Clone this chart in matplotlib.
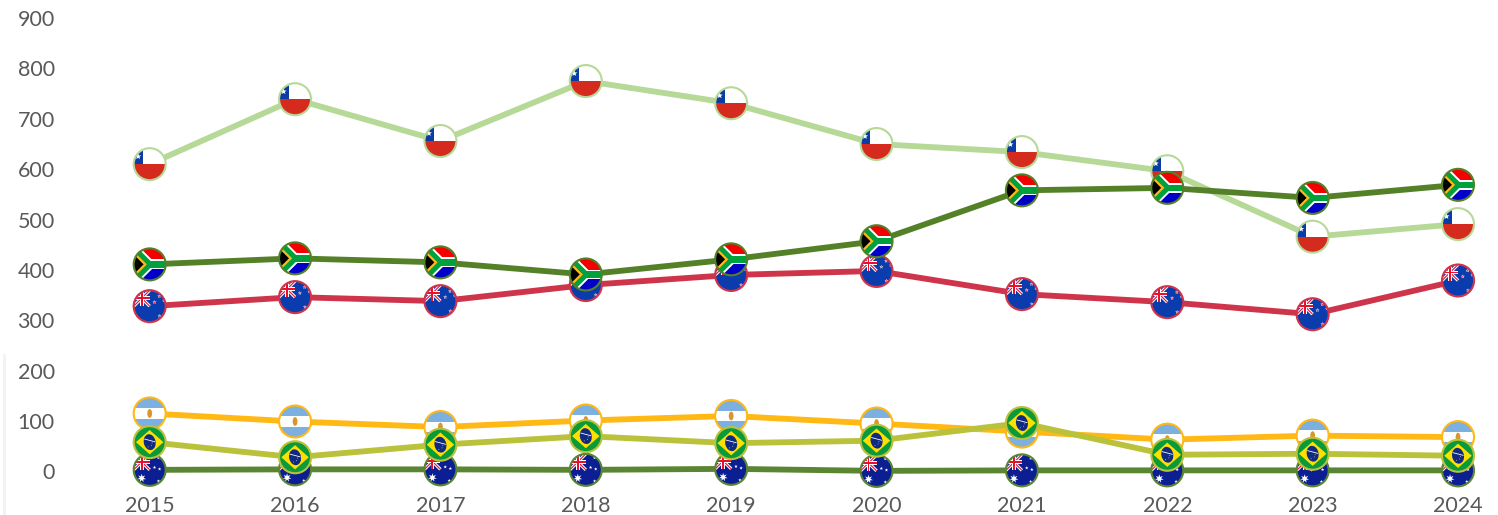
import matplotlib
matplotlib.use("Agg")
import matplotlib.pyplot as plt
from matplotlib.patches import Circle, Rectangle, Polygon, Ellipse, PathPatch
from matplotlib.path import Path
from matplotlib.transforms import Affine2D
from matplotlib.lines import Line2D
import numpy as np

plt.rcParams['font.family'] = ['Lato', 'DejaVu Sans']

years = ['2015', '2016', '2017', '2018', '2019', '2020', '2021', '2022', '2023', '2024']
y_ticks = [0, 100, 200, 300, 400, 500, 600, 700, 800, 900]

australia = [3, 4, 4, 3, 5, 1, 2, 2, 2, 2]
argentina = [115, 99, 88, 101, 110, 95, 79, 63, 71, 68]
new_zealand = [328, 346, 338, 370, 390, 398, 352, 336, 312, 379]
chile = [610, 739, 656, 775, 731, 650, 634, 596, 466, 491]
south_africa = [411, 423, 415, 391, 421, 457, 558, 563, 543, 569]
brazil = [58, 28, 53, 70, 56, 61, 96, 33, 35, 31]

W, H = 1498, 515
fig = plt.figure(figsize=(W / 100, H / 100), dpi=100)
# axes sized in pixels so the years and gridless scale land where they do in the picture
ax = fig.add_axes([77 / W, 25 / H, (W - 77) / W, (H - 25) / H])
ax.set_xlim(-0.5, 9.275)
ax.set_ylim(-37, 936)
for s in ax.spines.values():
    s.set_visible(False)
ax.set_xticks(range(len(years)))
ax.set_xticklabels(years)
ax.set_yticks(y_ticks)
ax.tick_params(axis='both', length=0, labelsize=15.5, labelcolor='#595959')
ax.tick_params(axis='y', pad=16)
ax.tick_params(axis='x', pad=4)

# faint edge at lower left
fig.add_artist(Line2D([4 / W, 4 / W], [0, 160 / H], color='#f2f2f2', lw=2))


# every flag is drawn in a unit circle, T moves it to the data point
def band(p1, p2, w):
    p1, p2 = np.array(p1, float), np.array(p2, float)
    d = p2 - p1
    n = np.array([-d[1], d[0]]) / np.hypot(*d) * w / 2
    return [p1 + n, p2 + n, p2 - n, p1 - n]


def star(cx, cy, s, color, T, n=5):
    tr = Affine2D().scale(s).translate(cx, cy) + T
    return PathPatch(Path.unit_regular_star(n, 0.42), transform=tr, fc=color, ec='none')


def jack(T):
    # union jack in upper left quarter
    a = [(-1, 1), (0, 0)]
    b = [(-1, 0), (0, 1)]
    out = [Polygon(band(*a, 0.2), fc='white', transform=T),
           Polygon(band(*b, 0.2), fc='white', transform=T),
           Polygon(band(*a, 0.07), fc='#e8112d', transform=T),
           Polygon(band(*b, 0.07), fc='#e8112d', transform=T),
           Rectangle((-0.62, 0), 0.24, 1, fc='white', transform=T),
           Rectangle((-1, 0.38), 1, 0.24, fc='white', transform=T),
           Rectangle((-0.56, 0), 0.12, 1, fc='#e8112d', transform=T),
           Rectangle((-1, 0.44), 1, 0.12, fc='#e8112d', transform=T)]
    return out


def flag_chile(T):
    return [Rectangle((-1, 0), 2, 1, fc='white', transform=T),
            Rectangle((-1, -1), 2, 1, fc='#d52b1e', transform=T),
            Rectangle((-1, 0), 0.6, 1, fc='#0a3ca6', transform=T),
            star(-0.72, 0.48, 0.2, 'white', T)]


def flag_nz(T):
    out = [Rectangle((-1, -1), 2, 2, fc='#0a3cae', transform=T)] + jack(T)
    for x, y in [(0.6, 0.62), (0.3, 0.25), (0.9, 0.35), (0.62, -0.62)]:
        out.append(star(x, y, 0.13, 'white', T))
        out.append(star(x, y, 0.07, '#e8112d', T))
    return out


def flag_aus(T):
    out = [Rectangle((-1, -1), 2, 2, fc='#0b1f92', transform=T)] + jack(T)
    out.append(star(-0.5, -0.52, 0.28, 'white', T, n=7))
    for x, y in [(0.55, 0.75), (0.95, 0.45), (0.3, 0.15), (0.62, 0.05), (0.55, -0.7)]:
        out.append(star(x, y, 0.11, 'white', T))
    return out


def flag_sa(T):
    return [Rectangle((-1, 0), 2, 1, fc='#f40000', transform=T),
            Rectangle((-1, -1), 2, 1, fc='#0000c8', transform=T),
            Polygon(band((-1, 1), (0, 0), 0.62), fc='white', transform=T),
            Polygon(band((-1, -1), (0, 0), 0.62), fc='white', transform=T),
            Rectangle((-0.1, -0.31), 1.2, 0.62, fc='white', transform=T),
            Polygon(band((-1.1, 1.1), (0, 0), 0.38), fc='#00a03c', transform=T),
            Polygon(band((-1.1, -1.1), (0, 0), 0.38), fc='#00a03c', transform=T),
            Rectangle((-0.1, -0.2), 1.2, 0.4, fc='#00a03c', transform=T),
            Polygon([(-1, 0.82), (-0.18, 0), (-1, -0.82)], fc='#ffb81c', transform=T),
            Polygon([(-1, 0.62), (-0.38, 0), (-1, -0.62)], fc='black', transform=T)]


def flag_brazil(T):
    out = [Rectangle((-1, -1), 2, 2, fc='#0b9a3a', transform=T),
           Polygon([(-0.86, 0), (0, 0.76), (0.86, 0), (0, -0.76)], fc='#fedf00', transform=T),
           Ellipse((0, 0), 0.74, 1.0, angle=12, fc='#0f2a80', transform=T),
           Polygon(band((-0.34, 0.2), (0.34, 0.02), 0.05), fc='white', transform=T)]
    for x, y in [(0.1, -0.2), (-0.1, -0.3), (0.15, -0.05)]:
        out.append(star(x, y, 0.04, 'white', T))
    return out


def flag_arg(T):
    return [Rectangle((-1, -1), 2, 2, fc='#7cb0e0', transform=T),
            Rectangle((-1, -0.33), 2, 0.66, fc='white', transform=T),
            Ellipse((0, 0), 0.3, 0.55, fc='#d9962f', transform=T)]


# drawing order: later series sit on top
series = [
    (australia, '#5a8532', flag_aus),
    (argentina, '#ffb814', flag_arg),
    (new_zealand, '#ce344a', flag_nz),
    (chile, '#b6d998', flag_chile),
    (south_africa, '#548028', flag_sa),
    (brazil, '#bac23c', flag_brazil),
]

R = 16
z = 2
for values, color, flag in series:
    xs = list(range(len(values)))
    ax.plot(xs, values, color=color, lw=4.2, zorder=z, solid_joinstyle='round')
    z += 1
    for i, v in zip(xs, values):
        px, py = ax.transData.transform((i, v))
        T = Affine2D().scale(R).translate(px, py)
        base = Circle((0, 0), 1, fc='white', ec='none', transform=T, zorder=z)
        ax.add_patch(base)
        clip = Circle((0, 0), 1, transform=T)
        for p in flag(T):
            p.set_zorder(z)
            p.set_edgecolor('none')
            ax.add_patch(p)
            p.set_clip_path(clip)
        ax.add_patch(Circle((0, 0), 1, fc='none', ec=color, lw=1.5, transform=T, zorder=z))
        z += 1

fig.savefig('out.png', dpi=100)
